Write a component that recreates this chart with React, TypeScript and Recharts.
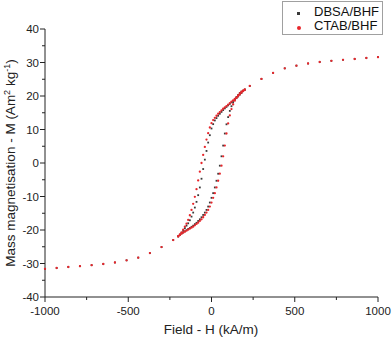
import { ScatterChart, Scatter, XAxis, YAxis } from "recharts";

// field (kA/m) and magnetisation (Am2/kg)
const outerH = [-1000, -930, -860, -790, -720, -650, -580, -510, -440, -370, -300, -230, 230, 300, 370, 440, 510, 580, 650, 720, 790, 860, 930, 1000];
const outerM = [-31.6, -31.35, -31.05, -30.8, -30.5, -30.15, -29.7, -29.05, -28.25, -26.9, -25.1, -23.0, 23.0, 25.1, 26.9, 28.25, 29.05, 29.7, 30.15, 30.5, 30.8, 31.05, 31.35, 31.6];

const loopDownH = [200, 190, 180, 170, 160, 150, 140, 130, 120, 110, 100, 90, 80, 70, 60, 50, 40, 30, 20, 10, 0, -10, -20, -30, -40, -50, -60, -70, -80, -90, -100, -110, -120, -130, -140, -150, -160, -170, -180, -190, -200];
const loopUpH = [-200, -190, -180, -170, -160, -150, -140, -130, -120, -110, -100, -90, -80, -70, -60, -50, -40, -30, -20, -10, 0, 10, 20, 30, 40, 50, 60, 70, 80, 90, 100, 110, 120, 130, 140, 150, 160, 170, 180, 190, 200];

const ctabDownM = [21.9, 21.5, 21.0, 20.5, 20.0, 19.5, 19.1, 18.7, 18.3, 17.9, 17.4, 17.0, 16.6, 16.2, 15.7, 15.2, 14.7, 14.1, 13.5, 12.8, 11.9, 10.6, 8.9, 7.0, 4.8, 2.4, 0.0, -2.6, -5.2, -7.8, -10.1, -12.2, -14.0, -15.6, -17.0, -18.1, -19.0, -19.9, -20.7, -21.3, -21.9];
const ctabUpM = [-21.9, -21.5, -21.1, -20.8, -20.5, -20.2, -19.9, -19.6, -19.3, -19.0, -18.6, -18.2, -17.8, -17.3, -16.8, -16.2, -15.5, -14.8, -14.0, -13.0, -11.8, -10.4, -9.0, -7.3, -5.3, -3.2, -0.8, 2.0, 5.2, 8.8, 11.8, 14.2, 16.1, 17.5, 18.6, 19.5, 20.2, 20.8, 21.3, 21.6, 21.9];
const dbsaDownM = [21.9, 21.45, 20.9, 20.4, 19.85, 19.35, 18.95, 18.55, 18.1, 17.65, 17.2, 16.75, 16.3, 15.8, 15.25, 14.7, 14.1, 13.4, 12.7, 11.6, 10.3, 8.3, 6.1, 3.6, 1.0, -1.8, -4.7, -7.3, -9.6, -11.6, -13.3, -14.8, -16.0, -17.1, -18.0, -18.7, -19.45, -20.2, -20.9, -21.4, -21.9];
const dbsaUpM = [-21.9, -21.45, -21.05, -20.7, -20.4, -20.05, -19.7, -19.4, -19.05, -18.7, -18.25, -17.85, -17.3, -16.8, -16.2, -15.5, -14.8, -14.0, -13.0, -11.8, -10.4, -9.0, -7.3, -5.3, -3.2, -0.8, 2.0, 5.2, 8.8, 11.55, 13.7, 15.55, 16.95, 18.05, 18.95, 19.7, 20.3, 20.9, 21.3, 21.6, 21.9];

const xTicks = [-1000, -750, -500, -250, 0, 250, 500, 750, 1000];
const yTicks = [-40, -35, -30, -25, -20, -15, -10, -5, 0, 5, 10, 15, 20, 25, 30, 35, 40];

const FONT = "Arial, 'Liberation Sans', sans-serif";
const RED = "#e8262b";
const DARK = "#3a3a3a";
const AXIS = "#222";

const pts = (hs: number[], ms: number[]) => hs.map((h, i) => ({ h, m: ms[i] }));

const dbsaData = [...pts(outerH, outerM), ...pts(loopDownH, dbsaDownM), ...pts(loopUpH, dbsaUpM)];
const ctabData = [...pts(outerH, outerM), ...pts(loopDownH, ctabDownM), ...pts(loopUpH, ctabUpM)];

function XTick({ x, y, payload }: any) {
  const major = payload.value % 500 === 0;
  return (
    <g>
      <line x1={x} x2={x} y1={y} y2={y + (major ? 5 : 3)} stroke={AXIS} />
      {major && (
        <text x={x} y={y + 18} textAnchor="middle" fontSize={11.5} fontFamily={FONT} fill="#222">
          {payload.value}
        </text>
      )}
    </g>
  );
}

function YTick({ x, y, payload }: any) {
  const major = payload.value % 10 === 0;
  return (
    <g>
      <line x1={x} x2={x - (major ? 5 : 3)} y1={y} y2={y} stroke={AXIS} />
      {major && (
        <text x={x - 6} y={y + 4} textAnchor="end" fontSize={11.5} fontFamily={FONT} fill="#222">
          {payload.value}
        </text>
      )}
    </g>
  );
}

function XTitle() {
  return (
    <text x={211} y={334} textAnchor="middle" fontSize={13.5} fontFamily={FONT} fill="#222">
      Field - H (kA/m)
    </text>
  );
}

function YTitle() {
  return (
    <text
      x={15}
      y={163}
      transform="rotate(-90 15 163)"
      textAnchor="middle"
      fontSize={13.5}
      fontFamily={FONT}
      fill="#222"
    >
      Mass magnetisation - M (Am
      <tspan fontSize={9} dy={-5}>2</tspan>
      <tspan dy={5}> kg</tspan>
      <tspan fontSize={9} dy={-5}>-1</tspan>
      <tspan dy={5}>)</tspan>
    </text>
  );
}

const RedDot = (p: any) => <circle cx={p.cx} cy={p.cy} r={1.15} fill={RED} />;
const DarkDot = (p: any) => <rect x={p.cx - 0.9} y={p.cy - 0.9} width={1.8} height={1.8} fill={DARK} />;

export default function App() {
  return (
    <div style={{ position: "absolute", left: 0, top: 0, width: 392, height: 341, background: "#fff" }}>
      <ScatterChart width={392} height={341} margin={{ top: 29, right: 14, bottom: 0, left: 0 }}>
        <XAxis
          type="number"
          dataKey="h"
          domain={[-1000, 1000]}
          ticks={xTicks}
          interval={0}
          height={44}
          stroke={AXIS}
          tickLine={false}
          tickSize={0}
          tickMargin={0}
          tick={<XTick />}
          label={<XTitle />}
        />
        <YAxis
          type="number"
          dataKey="m"
          domain={[-40, 40]}
          ticks={yTicks}
          interval={0}
          width={45}
          stroke={AXIS}
          tickLine={false}
          tickSize={0}
          tickMargin={0}
          tick={<YTick />}
          label={<YTitle />}
        />
        <Scatter name="DBSA/BHF" data={dbsaData} shape={DarkDot} isAnimationActive={false} />
        <Scatter name="CTAB/BHF" data={ctabData} shape={RedDot} isAnimationActive={false} />
      </ScatterChart>
      <div
        style={{
          position: "absolute",
          left: 282,
          top: 1,
          width: 99,
          height: 32,
          border: "1px solid #a0a0a0",
          fontFamily: FONT,
          fontSize: 13,
          color: "#111",
          background: "#fff",
        }}
      >
        <div style={{ position: "absolute", left: 14, top: 10, width: 3, height: 3, background: DARK }} />
        <div style={{ position: "absolute", left: 31, top: 3, lineHeight: "14px" }}>DBSA/BHF</div>
        <div style={{ position: "absolute", left: 14, top: 24, width: 4, height: 4, borderRadius: 2, background: RED }} />
        <div style={{ position: "absolute", left: 31, top: 17, lineHeight: "14px" }}>CTAB/BHF</div>
      </div>
    </div>
  );
}
